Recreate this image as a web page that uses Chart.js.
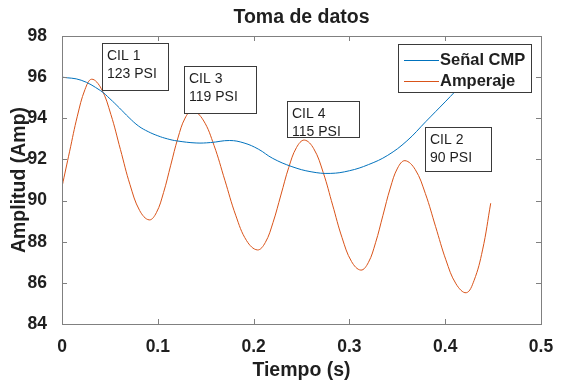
<!DOCTYPE html>
<html>
<head>
<meta charset="utf-8">
<script src="https://cdn.jsdelivr.net/npm/chart.js@4"></script>
<style>
  html, body { margin: 0; padding: 0; background: #fff; }
  #wrap { width: 561px; height: 382px; }
</style>
</head>
<body>
<div id="wrap"><canvas id="chart" width="561" height="382"></canvas></div>
<script>
// datos
const senalTiempo = [0, 0.02, 0.04, 0.05, 0.06, 0.07, 0.08, 0.09, 0.10, 0.11, 0.12, 0.14, 0.155, 0.175, 0.19, 0.205, 0.22, 0.24, 0.26, 0.28, 0.30, 0.32, 0.34, 0.36, 0.38, 0.40, 0.42, 0.4475];
const senalCMP = [96.0, 95.85, 95.35, 94.95, 94.5, 94.03, 93.62, 93.35, 93.15, 93.0, 92.9, 92.8, 92.82, 92.92, 92.8, 92.5, 92.05, 91.65, 91.4, 91.32, 91.45, 91.75, 92.2, 92.9, 93.85, 94.8, 95.75, 96.9];

const ampTiempo = [0, 0.008, 0.016, 0.024, 0.031, 0.041, 0.051, 0.061, 0.071, 0.081, 0.091,
  0.0985, 0.106, 0.1135, 0.121, 0.1285, 0.136, 0.1473, 0.1587, 0.170, 0.1813, 0.1927, 0.204,
  0.2122, 0.2203, 0.2285, 0.2367, 0.2448, 0.253, 0.2628, 0.2727, 0.2825, 0.2923, 0.3022, 0.312,
  0.3197, 0.3273, 0.335, 0.3427, 0.3503, 0.358, 0.3687, 0.3793, 0.390, 0.4007, 0.4113, 0.422,
  0.430, 0.439, 0.4475];
const amperaje = [90.67, 92.4, 94.1, 95.4, 95.9, 95.44, 94.19, 92.48, 90.77, 89.52, 89.06,
  89.41, 90.39, 91.72, 93.04, 94.01, 94.37, 93.92, 92.68, 90.99, 89.29, 88.05, 87.6,
  87.96, 88.94, 90.27, 91.61, 92.58, 92.94, 92.52, 91.36, 89.78, 88.2, 87.04, 86.62,
  86.98, 87.95, 89.28, 90.61, 91.58, 91.94, 91.51, 90.34, 88.73, 87.12, 85.95, 85.52,
  86.1, 87.6, 89.87];

const xTicks = [0, 0.1, 0.2, 0.3, 0.4, 0.5];
const yTicks = [84, 86, 88, 90, 92, 94, 96, 98];

// cuadros de texto: [linea1, linea2, izq, arriba, ancho, alto] en pixeles
const cuadros = [
  ["CIL 1", "123 PSI", 102, 43, 66, 47],
  ["CIL 3", "119 PSI", 184, 66, 72, 47],
  ["CIL 4", "115 PSI", 287, 101, 72, 36],
  ["CIL 2", "90 PSI", 425, 127, 66, 44]
];

const azul = "#0072BD";
const naranja = "#D95319";
const gris = "#808080";
const texto = "#1f1f1f";
const fuente = "'Liberation Sans', Arial, sans-serif";

const marco = {
  id: "marco",
  afterDatasetsDraw(chart) {
    const ctx = chart.ctx;
    const a = chart.chartArea;
    const xs = chart.scales.x, ys = chart.scales.y;
    ctx.save();
    ctx.strokeStyle = gris;
    ctx.lineWidth = 1;
    ctx.beginPath();
    xTicks.forEach(t => {
      const px = Math.round(xs.getPixelForValue(t)) + 0.5;
      ctx.moveTo(px, a.bottom); ctx.lineTo(px, a.bottom - 5);
      ctx.moveTo(px, a.top); ctx.lineTo(px, a.top + 5);
    });
    yTicks.forEach(v => {
      const py = Math.round(ys.getPixelForValue(v)) + 0.5;
      ctx.moveTo(a.left, py); ctx.lineTo(a.left + 5, py);
      ctx.moveTo(a.right, py); ctx.lineTo(a.right - 5, py);
    });
    ctx.stroke();
    ctx.strokeRect(Math.round(a.left) + 0.5, Math.round(a.top) + 0.5,
      Math.round(a.right - a.left), Math.round(a.bottom - a.top));

    // cuadros CIL
    ctx.font = "14px " + fuente;
    ctx.textBaseline = "alphabetic";
    ctx.textAlign = "left";
    cuadros.forEach(c => {
      ctx.fillStyle = "#fff";
      ctx.fillRect(c[2], c[3], c[4], c[5]);
      ctx.strokeStyle = "#3a3a3a";
      ctx.strokeRect(c[2] + 0.5, c[3] + 0.5, c[4], c[5]);
      ctx.fillStyle = texto;
      ctx.fillText(c[0], c[2] + 5, c[3] + 17);
      ctx.fillText(c[1], c[2] + 5, c[3] + 35);
    });

    // leyenda
    const lx = 398, ly = 44, lw = 133, lh = 48;
    ctx.fillStyle = "#fff";
    ctx.fillRect(lx, ly, lw, lh);
    ctx.strokeStyle = "#3a3a3a";
    ctx.strokeRect(lx + 0.5, ly + 0.5, lw, lh);
    ctx.lineWidth = 1;
    ctx.strokeStyle = azul;
    ctx.beginPath(); ctx.moveTo(404, 60.5); ctx.lineTo(439, 60.5); ctx.stroke();
    ctx.strokeStyle = naranja;
    ctx.beginPath(); ctx.moveTo(404, 81.5); ctx.lineTo(439, 81.5); ctx.stroke();
    ctx.fillStyle = texto;
    ctx.font = "bold 16.5px " + fuente;
    ctx.textBaseline = "middle";
    ctx.fillText("Señal CMP", 440, 60);
    ctx.fillText("Amperaje", 440, 81);

    // titulo
    ctx.font = "bold 19.5px " + fuente;
    ctx.textAlign = "center";
    ctx.fillText("Toma de datos", (a.left + a.right) / 2, 18);
    ctx.restore();
  }
};

new Chart(document.getElementById("chart"), {
  type: "line",
  data: {
    datasets: [
      {
        label: "Señal CMP",
        data: senalTiempo.map((t, i) => ({x: t, y: senalCMP[i]})),
        borderColor: azul,
        borderWidth: 1,
        pointRadius: 0,
        tension: 0.4,
        fill: false
      },
      {
        label: "Amperaje",
        data: ampTiempo.map((t, i) => ({x: t, y: amperaje[i]})),
        borderColor: naranja,
        borderWidth: 1,
        pointRadius: 0,
        tension: 0.4,
        fill: false
      }
    ]
  },
  options: {
    responsive: false,
    animation: false,
    layout: { padding: { left: 0, top: 36, right: 20, bottom: 0 } },
    plugins: { legend: { display: false }, tooltip: { enabled: false } },
    scales: {
      x: {
        type: "linear",
        min: 0, max: 0.5,
        afterBuildTicks: s => { s.ticks = xTicks.map(v => ({value: v})); },
        afterFit: s => { s.height = 58; },
        grid: { display: false },
        border: { display: false },
        ticks: {
          color: texto,
          padding: 5,
          maxRotation: 0,
          font: { family: fuente, size: 17.5, weight: "bold" },
          callback: v => String(v)
        },
        title: {
          display: true,
          text: "Tiempo (s)",
          color: texto,
          padding: { top: 0, bottom: 0 },
          font: { family: fuente, size: 19.5, weight: "bold" }
        }
      },
      y: {
        min: 84, max: 98,
        afterBuildTicks: s => { s.ticks = yTicks.map(v => ({value: v})); },
        afterFit: s => { s.width = 62; },
        grid: { display: false },
        border: { display: false },
        ticks: {
          color: texto,
          padding: 7,
          font: { family: fuente, size: 17.5, weight: "bold" }
        },
        title: {
          display: true,
          text: "Amplitud (Amp)",
          color: texto,
          padding: { top: 8, bottom: 0 },
          font: { family: fuente, size: 19.5, weight: "bold" }
        }
      }
    }
  },
  plugins: [marco]
});
</script>
</body>
</html>
